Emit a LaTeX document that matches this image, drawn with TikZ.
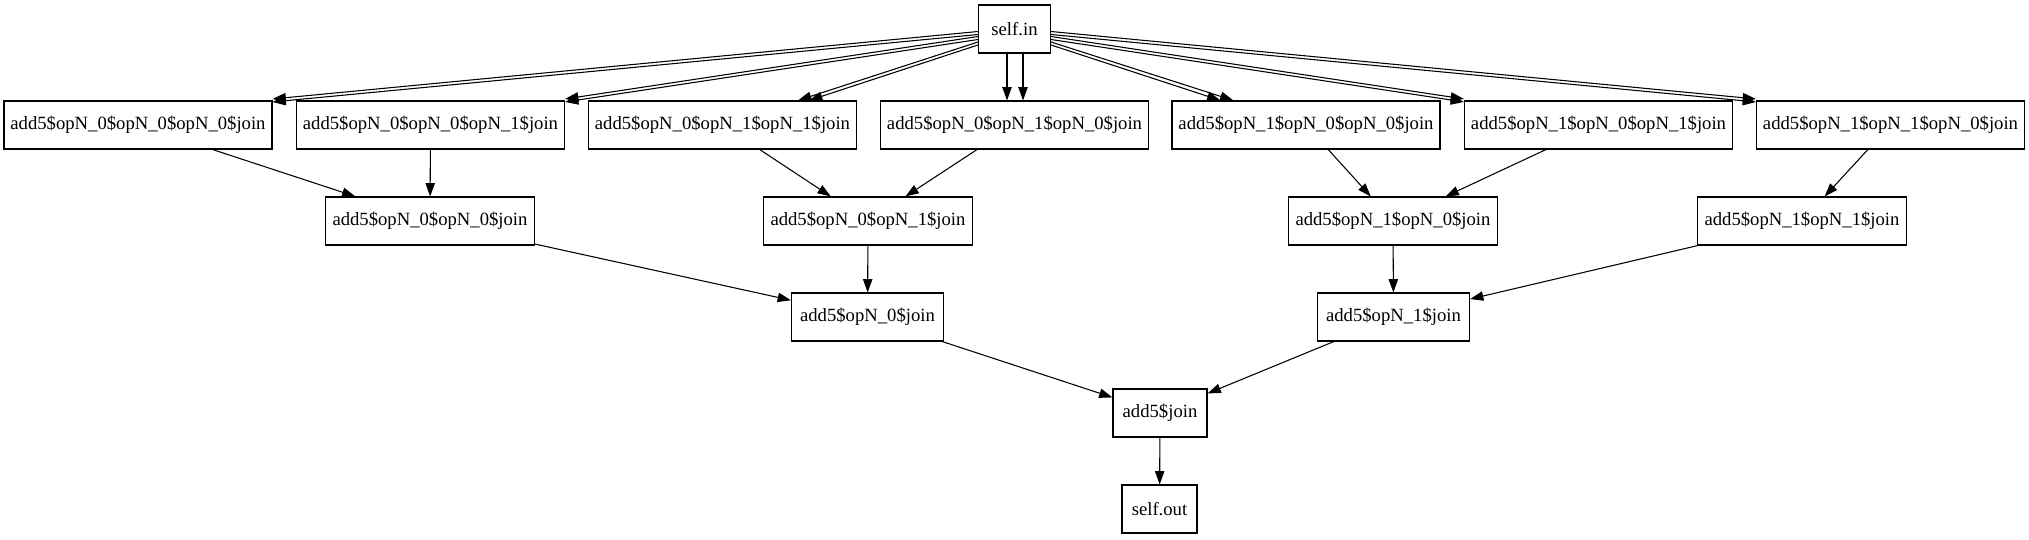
\documentclass[tikz,border=0pt]{standalone}
\usepackage{fontspec}
\setmainfont{Liberation Serif}
\usetikzlibrary{arrows.meta,calc,positioning}

\begin{document}
\begin{tikzpicture}[x=0.75pt, y=-0.75pt, >={Triangle[length=10pt,width=7pt]},
    box/.style={rectangle, draw, line width=0.8pt, minimum height=36pt, inner sep=0pt, font=\fontsize{14}{16}\selectfont},
    leaf/.style={box, minimum width=201pt},
    pair/.style={box, minimum width=156.75pt},
    half/.style={box, minimum width=114pt},
    arr/.style={->, line width=0.8pt}]
    \path[use as bounding box, fill=white] (0,0) rectangle (2029,539);

    \node[box, minimum width=54pt] (selfin) at (1014.5,29) {self.in};

    \node[leaf] (n000) at (138,125) {add5\$opN\_0\$opN\_0\$opN\_0\$join};
    \node[leaf] (n001) at (430.5,125) {add5\$opN\_0\$opN\_0\$opN\_1\$join};
    \node[leaf] (n011) at (722.5,125) {add5\$opN\_0\$opN\_1\$opN\_1\$join};
    \node[leaf] (n010) at (1014.5,125) {add5\$opN\_0\$opN\_1\$opN\_0\$join};
    \node[leaf] (n100) at (1306,125) {add5\$opN\_1\$opN\_0\$opN\_0\$join};
    \node[leaf] (n101) at (1598.5,125) {add5\$opN\_1\$opN\_0\$opN\_1\$join};
    \node[leaf] (n110) at (1890.5,125) {add5\$opN\_1\$opN\_1\$opN\_0\$join};

    \node[pair] (n00) at (430,221) {add5\$opN\_0\$opN\_0\$join};
    \node[pair] (n01) at (868,221) {add5\$opN\_0\$opN\_1\$join};
    \node[pair] (n10) at (1393,221) {add5\$opN\_1\$opN\_0\$join};
    \node[pair] (n11) at (1802,221) {add5\$opN\_1\$opN\_1\$join};

    \node[half] (n0) at (867.5,317) {add5\$opN\_0\$join};
    \node[half] (n1) at (1393.5,317) {add5\$opN\_1\$join};

    \node[box, minimum width=70.5pt] (join) at (1160,413) {add5\$join};
    \node[box, minimum width=56.25pt] (selfout) at (1159.5,509) {self.out};

    % two edges from self.in into every leaf
    \draw[arr] ($(selfin.west)+(0,2.5)$) -- ($(n000.north east)+(0,-1.5)$);
    \draw[arr] ($(selfin.west)+(0,5.5)$) -- ($(n000.north east)+(0,1.5)$);
    \draw[arr] ($(selfin.west)+(0,7.5)$) -- ($(n001.north east)+(0,-1.5)$);
    \draw[arr] ($(selfin.west)+(0,10.5)$) -- ($(n001.north east)+(0,1.5)$);
    \draw[arr] ($(selfin.west)+(0,13)$) -- ($(n011.north east)+(-59,0)$);
    \draw[arr] ($(selfin.west)+(0,16)$) -- ($(n011.north east)+(-48,0)$);
    \draw[arr] ($(selfin.south)+(-7.5,0)$) -- ($(n010.north)+(-7.5,0)$);
    \draw[arr] ($(selfin.south)+(8.5,0)$) -- ($(n010.north)+(8.5,0)$);
    \draw[arr] ($(selfin.east)+(0,16)$) -- ($(n100.north west)+(49,0)$);
    \draw[arr] ($(selfin.east)+(0,13)$) -- ($(n100.north west)+(62,0)$);
    \draw[arr] ($(selfin.east)+(0,10.5)$) -- ($(n101.north west)+(0,1.5)$);
    \draw[arr] ($(selfin.east)+(0,7.5)$) -- ($(n101.north west)+(0,-1.5)$);
    \draw[arr] ($(selfin.east)+(0,5.5)$) -- ($(n110.north west)+(0,1.5)$);
    \draw[arr] ($(selfin.east)+(0,2.5)$) -- ($(n110.north west)+(0,-1.5)$);

    \draw[arr] (n000) -- (n00);
    \draw[arr] (n001) -- (n00);
    \draw[arr] (n011) -- (n01);
    \draw[arr] (n010) -- (n01);
    \draw[arr] (n100) -- (n10);
    \draw[arr] (n101) -- (n10);
    \draw[arr] (n110) -- (n11);

    \draw[arr] (n00) -- (n0);
    \draw[arr] (n01) -- (n0);
    \draw[arr] (n10) -- (n1);
    \draw[arr] (n11) -- (n1);

    \draw[arr] (n0) -- (join);
    \draw[arr] (n1) -- (join);
    \draw[arr] (join) -- (selfout);
\end{tikzpicture}
\end{document}
